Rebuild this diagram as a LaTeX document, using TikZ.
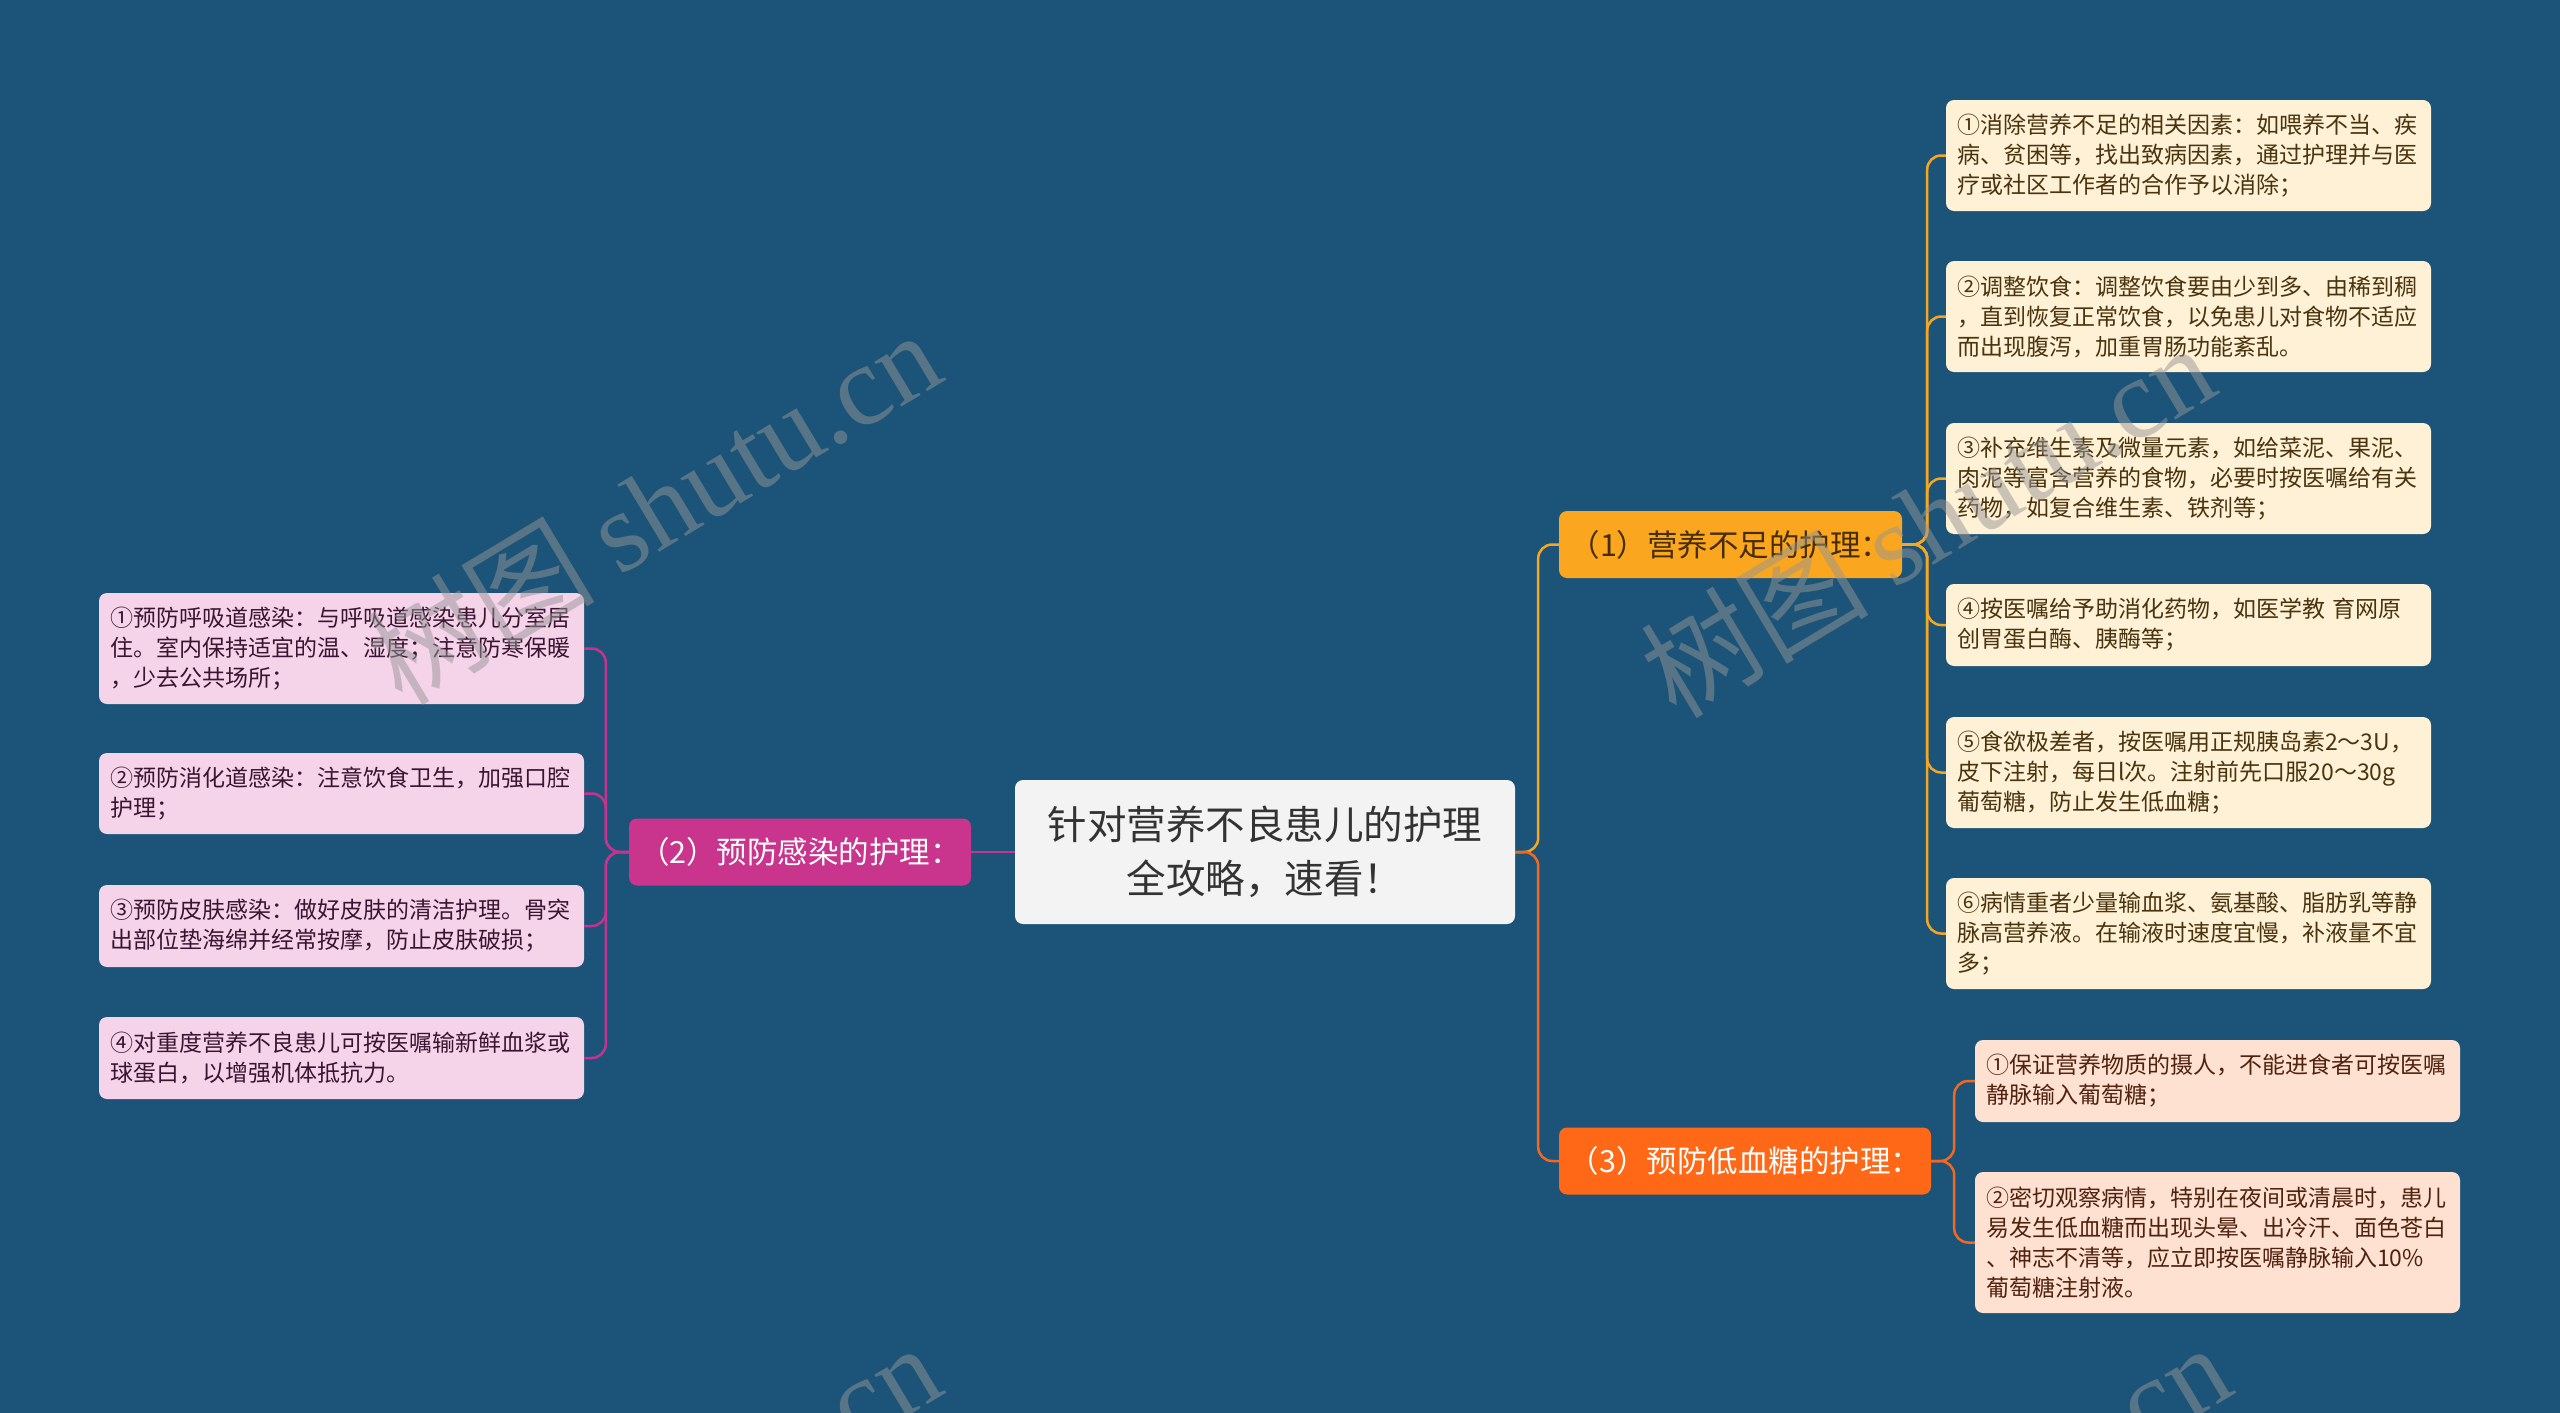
\documentclass[tikz,border=0pt]{standalone}
\usepackage{fontspec}
\setmainfont{Noto Sans CJK SC}
\newfontfamily\wmcjk{Noto Sans CJK SC}
\newfontfamily\wmlat{Liberation Serif}
\definecolor{bgc}{RGB}{27,84,120}
\definecolor{centerfill}{RGB}{243,243,243}
\definecolor{centertext}{RGB}{51,51,51}
\definecolor{oneFill}{RGB}{250,166,30}
\definecolor{oneText}{RGB}{70,45,0}
\definecolor{threeFill}{RGB}{255,104,22}
\definecolor{twoFill}{RGB}{201,52,140}
\definecolor{oneLeaf}{RGB}{255,241,214}
\definecolor{threeLeaf}{RGB}{255,225,210}
\definecolor{twoLeaf}{RGB}{245,212,234}
\definecolor{oneLeafText}{RGB}{74,52,16}
\definecolor{threeLeafText}{RGB}{80,34,16}
\definecolor{twoLeafText}{RGB}{58,20,48}
\definecolor{oneLine}{RGB}{245,166,35}
\definecolor{threeLine}{RGB}{242,104,33}
\definecolor{twoLine}{RGB}{196,52,142}
\definecolor{wmc}{RGB}{150,150,150}
\begin{document}
\begin{tikzpicture}[x=1pt,y=-1pt,
  centerbox/.style={fill=centerfill, text=centertext, rounded corners=8pt, minimum width=500pt, minimum height=144pt, align=center, inner sep=0pt, font=\fontsize{39.5}{54}\selectfont},
  branchbox/.style={rounded corners=8pt, minimum height=67pt, inner sep=0pt, font=\fontsize{30.5}{36}\selectfont},
  leafbox/.style={rounded corners=8pt, text width=463pt, align=left, inner xsep=11pt, inner ysep=0pt, font=\fontsize{23}{30}\selectfont},
  oneleaf/.style={leafbox, fill=oneLeaf, text=oneLeafText},
  threeleaf/.style={leafbox, fill=threeLeaf, text=threeLeafText},
  twoleaf/.style={leafbox, fill=twoLeaf, text=twoLeafText},
  conn/.style={line width=2.5pt, rounded corners=14pt},
  wm/.style={text=wmc, opacity=0.5, rotate=31, font=\fontsize{114}{114}\selectfont}
]
\fill[bgc] (0,0) rectangle (2560,1413);
\useasboundingbox (0,0) rectangle (2560,1413);

% central and branch nodes
\node[centerbox] (c) at (1265,852) {针对营养不良患儿的护理\\全攻略，速看！};
\node[branchbox, fill=oneFill, text=oneText, minimum width=343pt] (b1) at (1730.5,544.5) {（1）营养不足的护理：};
\node[branchbox, fill=threeFill, text=white, minimum width=372pt] (b3) at (1745,1161) {（3）预防低血糖的护理：};
\node[branchbox, fill=twoFill, text=white, minimum width=342pt] (b2) at (800,852) {（2）预防感染的护理：};

% leaves of (1)
\node[oneleaf, minimum height=111pt] (r1) at (2188.5,155.5) {①消除营养不足的相关因素：如喂养不当、疾\\病、贫困等，找出致病因素，通过护理并与医\\疗或社区工作者的合作予以消除；};
\node[oneleaf, minimum height=111pt] (r2) at (2188.5,316.5) {②调整饮食：调整饮食要由少到多、由稀到稠\\，直到恢复正常饮食，以免患儿对食物不适应\\而出现腹泻，加重胃肠功能紊乱。};
\node[oneleaf, minimum height=111pt] (r3) at (2188.5,478.5) {③补充维生素及微量元素，如给菜泥、果泥、\\肉泥等富含营养的食物，必要时按医嘱给有关\\药物，如复合维生素、铁剂等；};
\node[oneleaf, minimum height=82pt] (r4) at (2188.5,625) {④按医嘱给予助消化药物，如医学教 育网原\\创胃蛋白酶、胰酶等；};
\node[oneleaf, minimum height=111pt] (r5) at (2188.5,772.5) {⑤食欲极差者，按医嘱用正规胰岛素2～3U，\\皮下注射，每日l次。注射前先口服20～30g\\葡萄糖，防止发生低血糖；};
\node[oneleaf, minimum height=111pt] (r6) at (2188.5,933.5) {⑥病情重者少量输血浆、氨基酸、脂肪乳等静\\脉高营养液。在输液时速度宜慢，补液量不宜\\多；};

% leaves of (3)
\node[threeleaf, minimum height=82pt] (m1) at (2217.5,1081) {①保证营养物质的摄人，不能进食者可按医嘱\\静脉输入葡萄糖；};
\node[threeleaf, minimum height=141pt] (m2) at (2217.5,1242.5) {②密切观察病情，特别在夜间或清晨时，患儿\\易发生低血糖而出现头晕、出冷汗、面色苍白\\、神志不清等，应立即按医嘱静脉输入10\%\\葡萄糖注射液。};

% leaves of (2)
\node[twoleaf, minimum height=111pt] (p1) at (341.5,648.5) {①预防呼吸道感染：与呼吸道感染患儿分室居\\住。室内保持适宜的温、湿度；注意防寒保暖\\，少去公共场所；};
\node[twoleaf, minimum height=81pt] (p2) at (341.5,793.5) {②预防消化道感染：注意饮食卫生，加强口腔\\护理；};
\node[twoleaf, minimum height=82pt] (p3) at (341.5,926) {③预防皮肤感染：做好皮肤的清洁护理。骨突\\出部位垫海绵并经常按摩，防止皮肤破损；};
\node[twoleaf, minimum height=82pt] (p4) at (341.5,1058) {④对重度营养不良患儿可按医嘱输新鲜血浆或\\球蛋白，以增强机体抵抗力。};

% connectors
\draw[conn, draw=oneLine] (c.east) -- ++(23,0) |- (b1.west);
\draw[conn, draw=threeLine] (c.east) -- ++(23,0) |- (b3.west);
\draw[conn, draw=twoLine] (c.west) -- (b2.east);
\foreach \n in {1,...,6} \draw[conn, draw=oneLine] (b1.east) -- ++(25,0) |- (r\n.west);
\foreach \n in {1,2} \draw[conn, draw=threeLine] (b3.east) -- ++(23,0) |- (m\n.west);
\foreach \n in {1,...,4} \draw[conn, draw=twoLine] (b2.west) -- ++(-23,0) |- (p\n.east);

% watermarks
\begin{scope}
\clip (0,0) rectangle (2560,1413);
\node[wm] (w1) at (653,506) {{\wmcjk 树图} {\wmlat shutu.cn}};
\node[wm] (w2) at (1927,519) {{\wmcjk 树图} {\wmlat shutu.cn}};
\node[wm] (w3) at (653,1519) {{\wmcjk 树图} {\wmlat shutu.cn}};
\node[wm] (w4) at (1943,1519) {{\wmcjk 树图} {\wmlat shutu.cn}};
\end{scope}
\end{tikzpicture}
\end{document}
